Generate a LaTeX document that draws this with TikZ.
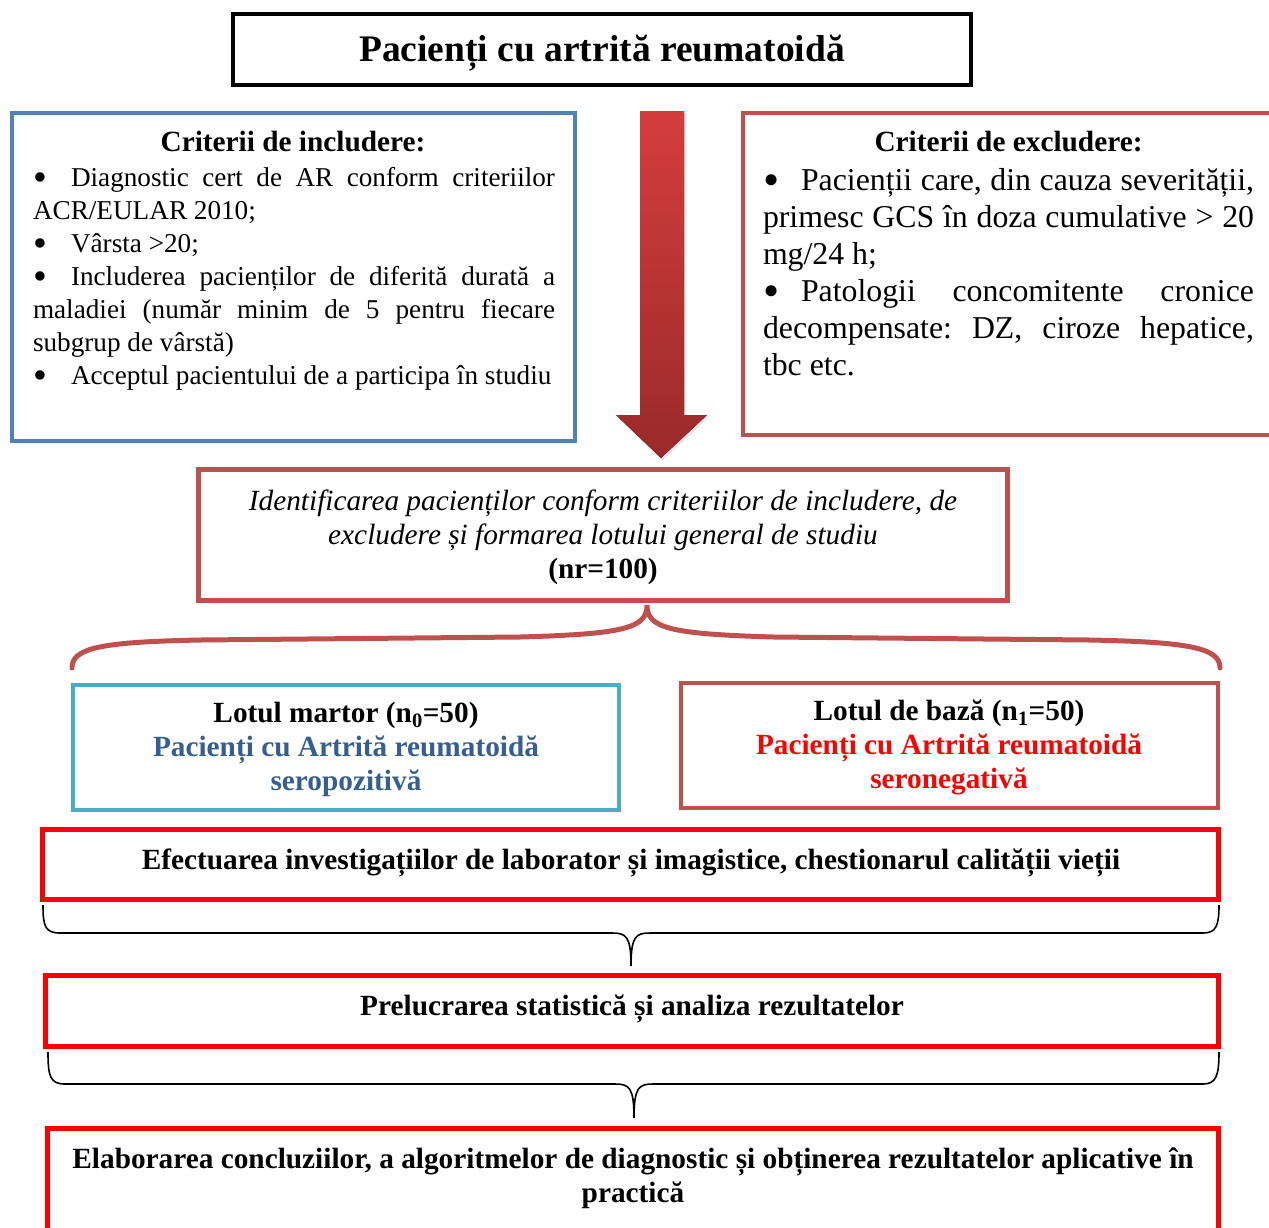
\documentclass[tikz,border=0pt]{standalone}
\usepackage{fontspec}
\setmainfont{Liberation Serif}
\usetikzlibrary{shadows}
\definecolor{incblue}{HTML}{4F81BD}
\definecolor{excred}{HTML}{C0504D}
\definecolor{aquab}{HTML}{4BACC6}
\definecolor{darkbluet}{HTML}{365F91}
\definecolor{purered}{HTML}{FF0000}
\definecolor{arrtop}{HTML}{D53D3D}
\definecolor{arrbot}{HTML}{9A2A2A}
\newcommand{\blt}{\makebox[38pt][l]{\smash{\raisebox{-0.17em}{\scalebox{1.45}{\textbullet}}}}}
\begin{document}
\begin{tikzpicture}[x=1pt,y=-1pt,
  frame/.style={draw=#1, rectangle, inner sep=0pt, line width=4.5pt},
  redframe/.style={draw=purered, rectangle, inner sep=0pt, line width=5pt},
  txt/.style={inner sep=0pt, outer sep=0pt},
  rbrace/.style={draw=excred, line width=5pt, line cap=round},
  kbrace/.style={draw=black, line width=1.6pt}
]
\useasboundingbox (0,0) rectangle (1269,1227);
\clip (0,0) rectangle (1269,1227);

% boxes
\node[frame=black, line width=4pt, minimum width=738pt, minimum height=71pt] (title) at (602,49.5) {};
\node[frame=incblue, line width=4pt, minimum width=563pt, minimum height=328pt] (incl) at (293.5,277) {};
\node[frame=excred, minimum width=547pt, minimum height=322pt] (excl) at (1016.5,274) {};
\node[frame=excred, line width=5pt, minimum width=809pt, minimum height=131pt] (ident) at (603,535) {};
\node[frame=aquab, line width=4pt, minimum width=546pt, minimum height=125pt] (martor) at (346,747.5) {};
\node[frame=excred, line width=4pt, minimum width=537pt, minimum height=125pt] (baza) at (949.5,745.5) {};
\node[redframe, minimum width=1176pt, minimum height=70pt] (efect) at (630.5,864.5) {};
\node[redframe, minimum width=1173pt, minimum height=71pt] (prel) at (632,1011) {};
\node[redframe, minimum width=1171pt, minimum height=121.5pt] (elab) at (633,1189.25) {};

% big arrow
\fill[top color=arrtop, bottom color=arrbot,
      drop shadow={opacity=0.2, shadow xshift=1.5pt, shadow yshift=-2.5pt}]
  (640,111) -- (684,111) -- (684,415) -- (707,415) -- (661,458)
  -- (616,415) -- (640,415) -- cycle;

% texts
\node[txt, anchor=base, font=\fontsize{37.5}{45}\selectfont\bfseries] (titletext) at (602,61) {Pacienți cu artrită reumatoidă};

\node[txt, anchor=base, font=\fontsize{29.3}{34}\selectfont\bfseries] (inchead) at (293,151) {Criterii de includere:};
\node[txt, anchor=base west, text width=522pt, align=justify,
      font=\fontsize{27.2}{33}\selectfont] (inctext) at (33,186) {%
\frenchspacing\hyphenpenalty=10000\tolerance=10000
\blt Diagnostic cert de AR conform criteriilor\linebreak ACR/EULAR 2010;\par
\blt Vârsta >20;\par
\blt Includerea pacienților de diferită durată a\linebreak maladiei (număr minim de 5 pentru fiecare\linebreak subgrup de vârstă)\par
\blt Acceptul pacientului de a participa în studiu};

\node[txt, anchor=base, font=\fontsize{29.3}{34}\selectfont\bfseries] (exchead) at (1008.5,151) {Criterii de excludere:};
\node[txt, anchor=base west, text width=491pt, align=justify,
      font=\fontsize{31.8}{37}\selectfont] (exctext) at (763,190.5) {%
\frenchspacing\hyphenpenalty=10000\tolerance=10000
\blt Pacienții care, din cauza severității,\linebreak primesc GCS în doza cumulative > 20\linebreak mg/24 h;\par
\blt Patologii concomitente cronice\linebreak decompensate: DZ, ciroze hepatice,\linebreak tbc etc.};

\node[txt, anchor=base, text width=800pt, align=flush center,
      font=\fontsize{29.3}{34}\selectfont] (identtext) at (603,510.7) {%
\textit{Identificarea pacienților conform criteriilor de includere, de}\\
\textit{excludere și formarea lotului general de studiu}\\
\textbf{(nr=100)}};

\node[txt, anchor=base, text width=540pt, align=flush center,
      font=\fontsize{29.3}{34}\selectfont\bfseries] (martortext) at (346,722.7) {%
Lotul martor (n\textsubscript{0}=50)\\
{\color{darkbluet}Pacienți cu Artrită reumatoidă}\\
{\color{darkbluet}seropozitivă}};

\node[txt, anchor=base, text width=530pt, align=flush center,
      font=\fontsize{29.3}{34}\selectfont\bfseries] (bazatext) at (949,720.7) {%
Lotul de bază (n\textsubscript{1}=50)\\
{\color{purered}Pacienți cu Artrită reumatoidă}\\
{\color{purered}seronegativă}};

\node[txt, anchor=base, font=\fontsize{29.3}{34}\selectfont\bfseries] (efecttext) at (631,869.7) {Efectuarea investigațiilor de laborator și imagistice, chestionarul calității vieții};
\node[txt, anchor=base, font=\fontsize{29.3}{34}\selectfont\bfseries] (preltext) at (632,1015.7) {Prelucrarea statistică și analiza rezultatelor};
\node[txt, anchor=base, text width=1160pt, align=flush center,
      font=\fontsize{29.3}{34}\selectfont\bfseries] (elabtext) at (633,1168.7) {%
Elaborarea concluziilor, a algoritmelor de diagnostic și obținerea rezultatelor aplicative în\\ practică};

% red brace below identification box
\coordinate (rbL) at (72,668);
\coordinate (rbR) at (1220,668);
\coordinate (rbT) at (647,605);
\draw[rbrace] (rbL) .. controls (72,648) and (100,642) .. (200,640) -- (520,637)
  .. controls (625,634) and (647,628) .. (rbT)
  .. controls (647,628) and (669,634) .. (774,637) -- (1090,640)
  .. controls (1190,642) and (1220,648) .. (rbR);

% black brace 1
\coordinate (k1L) at (43,905);
\coordinate (k1R) at (1219,905);
\coordinate (k1T) at (631,966);
\draw[kbrace] (k1L) .. controls (43,926) and (45,933) .. (60,933) -- (612,933)
  .. controls (626,933) and (631,936) .. (k1T)
  .. controls (631,936) and (636,933) .. (650,933) -- (1203,933)
  .. controls (1216,933) and (1219,926) .. (k1R);

% black brace 2
\coordinate (k2L) at (48,1052);
\coordinate (k2R) at (1219,1052);
\coordinate (k2T) at (634,1118);
\draw[kbrace] (k2L) .. controls (48,1076) and (50,1084) .. (65,1084) -- (615,1084)
  .. controls (629,1084) and (634,1087) .. (k2T)
  .. controls (634,1087) and (639,1084) .. (653,1084) -- (1203,1084)
  .. controls (1216,1084) and (1219,1076) .. (k2R);
\end{tikzpicture}
\end{document}
